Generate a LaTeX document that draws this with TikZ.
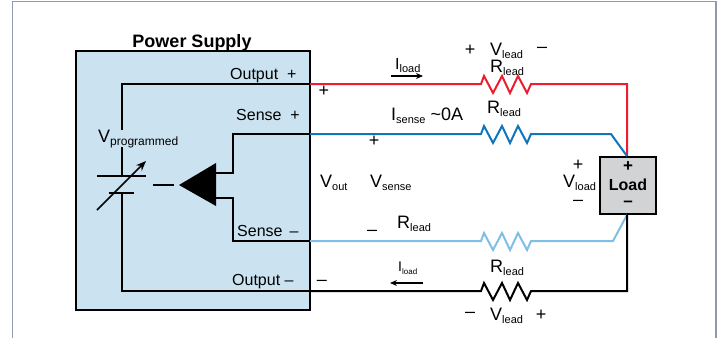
\documentclass[tikz,border=0pt]{standalone}
\usepackage{fontspec}
\setmainfont{Liberation Sans}
\usetikzlibrary{arrows.meta, positioning}

\definecolor{framegray}{HTML}{8C9CAE}
\definecolor{supplyblue}{HTML}{CBE3F1}
\definecolor{loadgray}{HTML}{D1D3D4}
\definecolor{wirered}{HTML}{ED1C2E}
\definecolor{wireblue}{HTML}{0F75BC}
\definecolor{wirelight}{HTML}{7FBFE6}

% zigzag of one lead resistor
\newcommand{\zigzag}{-- ++(3,-8) -- ++(9,17) -- ++(9,-17) -- ++(8,17) -- ++(8,-17) -- ++(9,17) -- ++(4,-9)}
% letter with subscript
\newcommand{\subtext}[3][11]{#2\raisebox{-3pt}{\fontsize{#1}{#1}\selectfont #3}}

\tikzset{
    wire/.style={line width=2pt, line join=miter},
    plate/.style={line width=2pt},
    txt/.style={anchor=base west, inner sep=0pt, font=\fontsize{16}{18}\selectfont},
    big/.style={anchor=base west, inner sep=0pt, font=\fontsize{18}{20}\selectfont},
    sign/.style={inner sep=0pt, font=\fontsize{18}{20}\selectfont},
    flow/.style={line width=1.2pt, -{Stealth[length=7pt,width=6pt]}}
}

\begin{document}
\begin{tikzpicture}[x=1pt, y=-1pt]
    \useasboundingbox (0,0) rectangle (719,338);
    \draw[framegray, line width=1.2pt] (12.5,338) -- (12.5,1.5) -- (716,1.5) -- (716,338);

    % Supply and load
    \node[draw, fill=supplyblue, line width=2.2pt, minimum width=234pt, minimum height=259pt, inner sep=0pt] (supply) at (193,180.5) {};
    \node[anchor=base, inner sep=0pt, font=\fontsize{18}{20}\selectfont\bfseries] (supplyname) at (192,47) {Power Supply};
    \node[draw, fill=loadgray, line width=1.8pt, minimum width=56pt, minimum height=57pt, inner sep=0pt] (load) at (628,185.5) {};
    \node[inner sep=0pt, font=\fontsize{16}{18}\selectfont\bfseries] (loadname) at (628,184.5) {Load};
    \node[sign, font=\fontsize{17}{18}\selectfont\bfseries] (loadplus) at (628,167) {+};
    \node[sign, font=\fontsize{17}{18}\selectfont\bfseries] (loadminus) at (628,204) {--};

    % Terminals
    \coordinate (outplus) at (310,84);
    \coordinate (senseplus) at (310,134);
    \coordinate (senseminus) at (310,241);
    \coordinate (outminus) at (310,291);
    \coordinate (redres) at (481,84);
    \coordinate (blueres) at (481,134);
    \coordinate (lightres) at (481,241);
    \coordinate (blackres) at (481,291);
    \coordinate (bluebend) at (611,134);
    \coordinate (lightbend) at (613,241);
    \coordinate (redbend) at (627,84);
    \coordinate (blackbend) at (627,291);
    \coordinate (outplusin) at (122,84);
    \coordinate (outminusin) at (122,291);
    \coordinate (topplate) at (122,176);
    \coordinate (lowplate) at (122,193);

    % Leads outside the supply
    \draw[wire, wirered] (outplus) -- (redres) \zigzag -- (redbend) -- (load.north -| redbend);
    \draw[wire, wireblue] (senseplus) -- (blueres) \zigzag -- (bluebend) -- (load.north -| redbend);
    \draw[wire, wirelight] (senseminus) -- (lightres) \zigzag -- (lightbend) -- (load.south -| redbend);
    \draw[wire] (outminus) -- (blackres) \zigzag -- (blackbend) -- (load.south -| blackbend);

    % Inside the supply
    \draw[wire] (outplus) -- (outplusin) -- (topplate);
    \draw[wire] (outminus) -- (outminusin) -- (lowplate);
    \draw[wire] (senseplus) -- (233,134) -- (233,173) -- (216,173);
    \draw[wire] (senseminus) -- (233,241) -- (233,198) -- (216,198);
    \draw[plate] (97,176) -- (146,176);
    \draw[plate] (109,193) -- (134,193);
    \draw[line width=1.5pt, -{Stealth[length=10pt,width=8pt]}] (97,210) -- (146,161);
    \fill (179,185) -- (216,163) -- (216,206) -- cycle;
    \draw[line width=2.2pt] (153,185) -- (174,185);

    % Labels in the supply
    \node[big, fill=supplyblue] (vprog) at (98,142) {\subtext[12]{V}{programmed}};
    \node[txt] (outplustxt) at (230,79) {Output\ \ +};
    \node[txt] (senseplustxt) at (236,120) {Sense\ \ +};
    \node[txt] (senseminustxt) at (237,236) {Sense\ \,--};
    \node[txt] (outminustxt) at (232,285) {Output\ --};

    % Signs at the terminals
    \node[sign] (plusone) at (324,91) {+};
    \node[sign] (plustwo) at (374,141) {+};
    \node[sign] (minusone) at (372,233) {--};
    \node[sign] (minustwo) at (322,283) {--};

    % Voltages
    \node[big] (vout) at (320,187) {\subtext{V}{out}};
    \node[big] (vsense) at (370,187) {\subtext{V}{sense}};
    \node[big] (vload) at (563,187) {\subtext{V}{load}};
    \node[sign] (vloadplus) at (578,165) {+};
    \node[sign] (vloadminus) at (578,203) {--};
    \node[big] (vleadtop) at (490,55) {\subtext{V}{lead}};
    \node[sign] (topplus) at (470,50) {+};
    \node[sign] (topminus) at (542,50) {--};
    \node[big] (vleadlow) at (490,320) {\subtext{V}{lead}};
    \node[sign] (lowminus) at (470,315) {--};
    \node[sign] (lowplus) at (541,315) {+};

    % Lead resistances
    \node[big] (rred) at (490,72) {\subtext{R}{lead}};
    \node[big] (rblue) at (487,113) {\subtext{R}{lead}};
    \node[big] (rlight) at (397,228) {\subtext{R}{lead}};
    \node[big] (rblack) at (490,272) {\subtext{R}{lead}};

    % Currents
    \node[txt] (iloadtop) at (395,69.5) {\subtext{I}{load}};
    \node[big] (isense) at (391,120) {\subtext{I}{sense}\ \textasciitilde 0A};
    \node[txt, font=\fontsize{14}{16}\selectfont] (iloadlow) at (398,271) {\subtext[8]{I}{load}};
    \coordinate (flowa) at (391,76);
    \coordinate (flowb) at (423,76);
    \coordinate (flowc) at (423,283);
    \coordinate (flowd) at (390,283);
    \draw[flow] (flowa) -- (flowb);
    \draw[flow] (flowc) -- (flowd);
\end{tikzpicture}
\end{document}
